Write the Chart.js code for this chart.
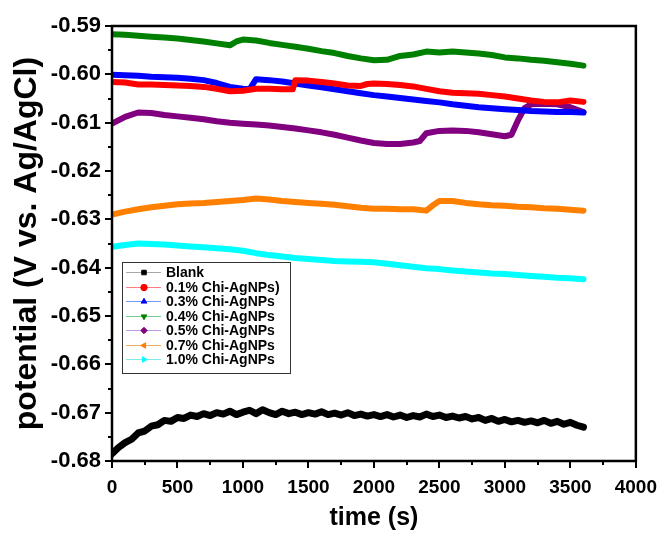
<!DOCTYPE html>
<html>
<head>
<meta charset="utf-8">
<script src="https://cdn.jsdelivr.net/npm/chart.js@4.4.1/dist/chart.umd.min.js"></script>
<style>
  html, body { margin: 0; padding: 0; background: #fff; }
  #wrap { width: 672px; height: 545px; }
</style>
</head>
<body>
<div id="wrap"><canvas id="chart" width="672" height="545"></canvas></div>
<script>
// Open-circuit potential vs time for each coating
const seriesLabels = ['Blank', '0.1% Chi-AgNPs)', '0.3% Chi-AgNPs', '0.4% Chi-AgNPs',
                      '0.5% Chi-AgNPs', '0.7% Chi-AgNPs', '1.0% Chi-AgNPs'];

const blankTime = [0,50,100,150,200,250,300,350,400,450,500,550,600,650,700,750,800,850,900,950,
  1000,1050,1100,1150,1200,1250,1300,1350,1400,1450,1500,1550,1600,1650,1700,1750,1800,1850,1900,1950,
  2000,2050,2100,2150,2200,2250,2300,2350,2400,2450,2500,2550,2600,2650,2700,2750,2800,2850,2900,2950,
  3000,3050,3100,3150,3200,3250,3300,3350,3400,3450,3500,3550,3600];
const blankPot = [-0.6785,-0.6772,-0.6762,-0.6755,-0.6742,-0.6738,-0.6728,-0.6725,-0.6716,-0.6718,
  -0.6710,-0.6712,-0.6705,-0.6708,-0.6702,-0.6706,-0.6700,-0.6703,-0.6697,-0.6704,
  -0.6699,-0.6695,-0.6702,-0.6694,-0.6700,-0.6704,-0.6697,-0.6702,-0.6699,-0.6704,
  -0.6700,-0.6703,-0.6698,-0.6704,-0.6701,-0.6705,-0.6700,-0.6706,-0.6703,-0.6707,
  -0.6704,-0.6708,-0.6704,-0.6709,-0.6705,-0.6710,-0.6706,-0.6709,-0.6703,-0.6708,
  -0.6705,-0.6710,-0.6707,-0.6711,-0.6708,-0.6713,-0.6710,-0.6716,-0.6712,-0.6718,
  -0.6714,-0.6719,-0.6716,-0.6720,-0.6717,-0.6721,-0.6716,-0.6722,-0.6718,-0.6724,
  -0.6720,-0.6726,-0.6730];

const chi01Time = [0,100,200,300,400,500,600,700,800,900,1000,1100,1200,1300,1380,1400,1500,1600,1700,1800,
  1900,1950,2000,2100,2200,2300,2400,2500,2600,2700,2800,2900,3000,3100,3200,3300,3400,3500,3600];
const chi01Pot = [-0.6016,-0.6017,-0.6021,-0.6021,-0.6022,-0.6023,-0.6024,-0.6026,-0.6030,-0.6035,
  -0.6034,-0.6030,-0.6030,-0.6031,-0.6031,-0.6012,-0.6013,-0.6016,-0.6019,-0.6023,
  -0.6024,-0.6020,-0.6019,-0.6020,-0.6022,-0.6025,-0.6030,-0.6035,-0.6038,-0.6039,
  -0.6040,-0.6043,-0.6046,-0.6050,-0.6054,-0.6057,-0.6058,-0.6054,-0.6057];

const chi03Time = [0,100,200,300,400,500,600,700,800,900,1000,1050,1100,1200,1300,1400,1500,1600,1700,1800,
  1900,2000,2100,2200,2300,2400,2500,2600,2700,2800,2900,3000,3100,3200,3300,3400,3500,3600];
const chi03Pot = [-0.6001,-0.6002,-0.6003,-0.6005,-0.6006,-0.6007,-0.6009,-0.6012,-0.6018,-0.6026,
  -0.6030,-0.6031,-0.6010,-0.6012,-0.6015,-0.6019,-0.6023,-0.6027,-0.6031,-0.6035,
  -0.6039,-0.6043,-0.6046,-0.6049,-0.6052,-0.6055,-0.6058,-0.6062,-0.6065,-0.6068,
  -0.6070,-0.6072,-0.6074,-0.6076,-0.6077,-0.6078,-0.6078,-0.6079];

const chi04Time = [0,100,200,300,400,500,600,700,800,900,950,1000,1100,1200,1300,1400,1500,1600,1700,1800,
  1900,2000,2100,2200,2300,2400,2500,2600,2700,2800,2900,3000,3100,3200,3300,3400,3500,3600];
const chi04Pot = [-0.5917,-0.5918,-0.5920,-0.5922,-0.5924,-0.5926,-0.5929,-0.5932,-0.5936,-0.5940,
  -0.5932,-0.5928,-0.5930,-0.5935,-0.5939,-0.5943,-0.5947,-0.5952,-0.5956,-0.5962,
  -0.5967,-0.5971,-0.5970,-0.5962,-0.5959,-0.5953,-0.5955,-0.5953,-0.5955,-0.5957,
  -0.5960,-0.5965,-0.5967,-0.5970,-0.5972,-0.5975,-0.5978,-0.5982];

const chi05Time = [0,100,200,300,400,500,600,700,800,900,1000,1100,1200,1300,1400,1500,1600,1700,1800,1900,
  2000,2100,2200,2300,2350,2400,2500,2600,2700,2800,2900,3000,3050,3100,3150,3200,3300,3400,3500,3600];
const chi05Pot = [-0.6102,-0.6088,-0.6079,-0.6080,-0.6084,-0.6087,-0.6090,-0.6093,-0.6097,-0.6100,
  -0.6102,-0.6104,-0.6106,-0.6109,-0.6112,-0.6116,-0.6120,-0.6125,-0.6131,-0.6137,
  -0.6142,-0.6144,-0.6144,-0.6141,-0.6138,-0.6122,-0.6117,-0.6116,-0.6117,-0.6120,
  -0.6124,-0.6128,-0.6125,-0.6095,-0.6070,-0.6062,-0.6061,-0.6062,-0.6068,-0.6078];

const chi07Time = [0,100,200,300,400,500,600,700,800,900,1000,1100,1200,1300,1400,1500,1600,1700,1800,1900,
  2000,2100,2200,2300,2400,2450,2500,2600,2700,2800,2900,3000,3100,3200,3300,3400,3500,3600];
const chi07Pot = [-0.6290,-0.6284,-0.6279,-0.6275,-0.6272,-0.6269,-0.6267,-0.6266,-0.6264,-0.6262,
  -0.6260,-0.6257,-0.6259,-0.6262,-0.6264,-0.6266,-0.6268,-0.6270,-0.6273,-0.6276,
  -0.6278,-0.6278,-0.6279,-0.6279,-0.6282,-0.6271,-0.6262,-0.6262,-0.6266,-0.6269,
  -0.6271,-0.6272,-0.6274,-0.6275,-0.6277,-0.6278,-0.6280,-0.6282];

const chi10Time = [0,100,200,300,400,500,600,700,800,900,1000,1100,1200,1300,1400,1500,1600,1700,1800,1900,
  2000,2100,2200,2300,2400,2500,2600,2700,2800,2900,3000,3100,3200,3300,3400,3500,3600];
const chi10Pot = [-0.6357,-0.6353,-0.6350,-0.6351,-0.6352,-0.6354,-0.6356,-0.6358,-0.6360,-0.6362,
  -0.6365,-0.6370,-0.6374,-0.6377,-0.6380,-0.6382,-0.6384,-0.6386,-0.6387,-0.6388,
  -0.6389,-0.6392,-0.6395,-0.6398,-0.6401,-0.6403,-0.6406,-0.6408,-0.6410,-0.6412,
  -0.6413,-0.6415,-0.6417,-0.6419,-0.6421,-0.6422,-0.6424];

// Axis tick values
const xTicks = [0, 500, 1000, 1500, 2000, 2500, 3000, 3500, 4000];
const yTicks = [-0.59, -0.60, -0.61, -0.62, -0.63, -0.64, -0.65, -0.66, -0.67, -0.68];

const seriesTimes = [blankTime, chi01Time, chi03Time, chi04Time, chi05Time, chi07Time, chi10Time];
const seriesPots = [blankPot, chi01Pot, chi03Pot, chi04Pot, chi05Pot, chi07Pot, chi10Pot];
const lineColors = ['#000000', '#ff0000', '#0000ff', '#008000', '#800080', '#ff8000', '#00ffff'];
const legendLineColors = ['#a8a8a8', '#ff8080', '#6f9bff', '#6fcf8a', '#c39be0', '#e8b060', '#7fe8e8'];
// marker shape and rotation for each legend entry
const markerShapes = ['rect', 'circle', 'triangle', 'triangle', 'rectRot', 'triangle', 'triangle'];
const markerTurns = [0, 0, 0, 180, 0, -90, 90];

const FONT = '"Liberation Sans", Arial, sans-serif';

const datasets = seriesLabels.map((label, i) => ({
  label,
  data: seriesTimes[i].map((t, k) => ({ x: t, y: seriesPots[i][k] })),
  borderColor: lineColors[i],
  backgroundColor: lineColors[i],
  borderWidth: i === 0 ? 7 : 6,
  pointRadius: 0,
  tension: 0,
  borderJoinStyle: 'round',
  borderCapStyle: 'round'
}));

// Outward major/minor ticks on the left and bottom axes, plus the frame
const frameTicks = {
  id: 'frameTicks',
  afterDraw(chart) {
    const { ctx, chartArea: a, scales: { x, y } } = chart;
    ctx.save();
    ctx.strokeStyle = '#000';
    ctx.lineWidth = 2;
    ctx.beginPath();
    for (let t = 0; t <= 4000; t += 250) {
      const px = Math.round(x.getPixelForValue(t));
      const len = (t % 500 === 0) ? 7 : 4;
      ctx.moveTo(px, a.bottom);
      ctx.lineTo(px, a.bottom + len);
    }
    for (let k = 0; k <= 18; k++) {
      const v = -0.68 + k * 0.005;
      const py = Math.round(y.getPixelForValue(v));
      const len = (k % 2 === 0) ? 7 : 4;
      ctx.moveTo(a.left, py);
      ctx.lineTo(a.left - len, py);
    }
    ctx.stroke();
    ctx.lineWidth = 2.5;
    ctx.strokeRect(a.left, a.top, a.right - a.left, a.bottom - a.top);
    ctx.restore();
  }
};

// Boxed legend with a thin line and a marker for every series
const boxedLegend = {
  id: 'boxedLegend',
  afterDraw(chart) {
    const ctx = chart.ctx;
    const left = 122, top = 262, w = 168, h = 111, row = 14.5;
    ctx.save();
    ctx.fillStyle = '#fff';
    ctx.fillRect(left, top, w, h);
    ctx.strokeStyle = '#333';
    ctx.lineWidth = 1;
    ctx.strokeRect(left + 0.5, top + 0.5, w, h);
    ctx.font = 'bold 14px ' + FONT;
    ctx.textBaseline = 'middle';
    chart.data.datasets.forEach((ds, i) => {
      const cy = Math.round(top + 10 + i * row) + 0.5;
      ctx.strokeStyle = legendLineColors[i];
      ctx.lineWidth = 1;
      ctx.beginPath();
      ctx.moveTo(126, cy);
      ctx.lineTo(161, cy);
      ctx.stroke();
      ctx.fillStyle = lineColors[i];
      ctx.strokeStyle = lineColors[i];
      Chart.helpers.drawPoint(ctx, {
        pointStyle: markerShapes[i],
        radius: 3.2,
        rotation: markerTurns[i],
        borderWidth: 1
      }, 144, cy);
      ctx.fillStyle = '#000';
      ctx.fillText(ds.label, 166, cy + 0.5);
    });
    ctx.restore();
  }
};

new Chart(document.getElementById('chart'), {
  type: 'line',
  data: { datasets },
  options: {
    responsive: false,
    animation: false,
    devicePixelRatio: 1,
    layout: { padding: { top: 26, right: 25, left: 0, bottom: 0 } },
    plugins: { legend: { display: false }, tooltip: { enabled: false } },
    scales: {
      x: {
        type: 'linear',
        min: 0, max: 4000,
        afterBuildTicks(s) { s.ticks = xTicks.map(v => ({ value: v })); },
        afterFit(s) { s.height = 84; },
        grid: { display: false, drawTicks: false },
        border: { display: false },
        ticks: {
          color: '#000',
          padding: 15,
          maxRotation: 0,
          font: { family: FONT, size: 19, weight: 'bold' },
          callback: v => String(v)
        },
        title: {
          display: true, text: 'time (s)', color: '#000',
          padding: { top: 0, bottom: 12 },
          font: { family: FONT, size: 25, weight: 'bold' }
        }
      },
      y: {
        type: 'linear',
        min: -0.68, max: -0.59,
        afterBuildTicks(s) { s.ticks = yTicks.map(v => ({ value: v })); },
        afterFit(s) { s.width = 112; },
        grid: { display: false, drawTicks: false },
        border: { display: false },
        ticks: {
          color: '#000',
          padding: 11,
          font: { family: FONT, size: 22, weight: 'bold' },
          callback: v => v.toFixed(2)
        },
        title: {
          display: true, text: 'potential (V vs. Ag/AgCl)', color: '#000',
          padding: { top: 8, bottom: 0 },
          font: { family: FONT, size: 32, weight: 'bold' }
        }
      }
    }
  },
  plugins: [frameTicks, boxedLegend]
});
</script>
</body>
</html>
